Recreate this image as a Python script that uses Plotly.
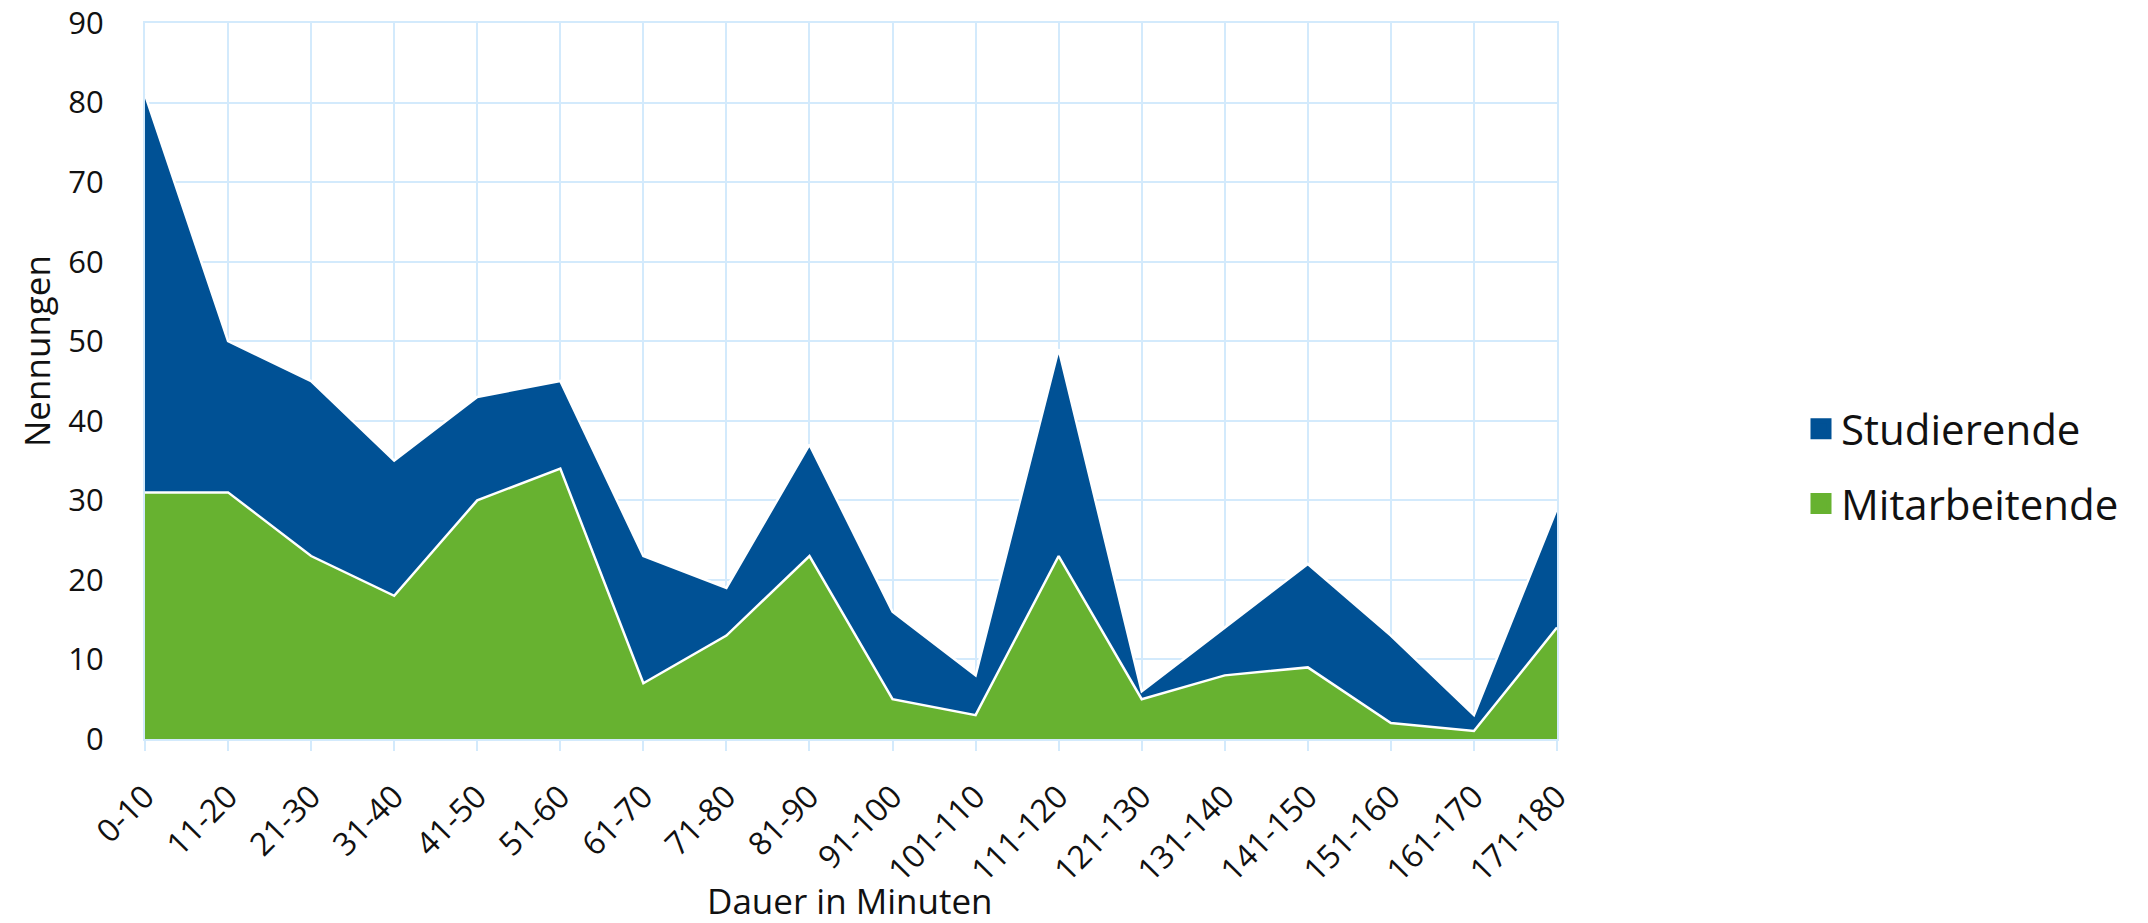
import plotly.graph_objects as go

categories = ["0-10", "11-20", "21-30", "31-40", "41-50", "51-60", "61-70", "71-80",
              "81-90", "91-100", "101-110", "111-120", "121-130", "131-140", "141-150",
              "151-160", "161-170", "171-180"]
mitarbeitende = [31, 31, 23, 18, 30, 34, 7, 13, 23, 5, 3, 23, 5, 8, 9, 2, 1, 14]
studierende = [50, 19, 22, 17, 13, 11, 16, 6, 14, 11, 5, 26, 1, 6, 13, 11, 2, 15]
y_ticks = [0, 10, 20, 30, 40, 50, 60, 70, 80, 90]

BLUE = "#005195"
GREEN = "#67b230"
GRID = "#d3eafc"
TEXT = "#111111"
FONT = "Open Sans"

# page is 2148x923; the body margin is removed by a post script
W, H = 2148, 923
PL, PR, PT, PB = 145, 1557, 23, 739          # plot area in page pixels
pw, ph = PR - PL, PB - PT


def px_x(x):
    return (x - PL) / pw


def px_y(y):
    return (PB - y) / ph


fig = go.Figure()
fig.add_trace(go.Scatter(
    x=categories, y=mitarbeitende, name="Mitarbeitende", stackgroup="one",
    mode="lines", line=dict(color="white", width=2.5), fillcolor=GREEN,
    showlegend=False, hoverinfo="skip"))
fig.add_trace(go.Scatter(
    x=categories, y=studierende, name="Studierende", stackgroup="one",
    mode="lines", line=dict(color="white", width=2.5), fillcolor=BLUE,
    showlegend=False, hoverinfo="skip"))

# legend entries (Studierende listed first)
fig.add_trace(go.Scatter(
    x=[None], y=[None], name="Studierende", mode="markers", legendgroup="s",
    marker=dict(symbol="square", size=16, color=BLUE, line=dict(color=BLUE, width=5))))
fig.add_trace(go.Scatter(
    x=[None], y=[None], name="Mitarbeitende", mode="markers", legendgroup="m",
    marker=dict(symbol="square", size=16, color=GREEN, line=dict(color=GREEN, width=5))))

fig.update_layout(
    width=W, height=H,
    margin=dict(l=PL, r=W - PR, t=PT, b=H - PB, autoexpand=False),
    paper_bgcolor="white", plot_bgcolor="white",
    font=dict(family=FONT, size=32, color=TEXT),
    showlegend=True,
    legend=dict(
        x=px_x(1801), y=px_y(395), xanchor="left", yanchor="top",
        font=dict(family=FONT, size=42, color=TEXT),
        tracegroupgap=17, traceorder="grouped", bgcolor="rgba(0,0,0,0)",
        itemsizing="trace"),
    xaxis=dict(
        type="category", range=[0, len(categories) - 1],
        showgrid=True, gridcolor=GRID, gridwidth=2,
        showline=True, linecolor=GRID, linewidth=2, mirror=True,
        ticks="outside", ticklen=10, tickwidth=2, tickcolor=GRID,
        tickangle=-45, tickfont=dict(size=32), ticklabelstandoff=14,
        zeroline=False, fixedrange=True),
    yaxis=dict(
        range=[0, 90], tickvals=y_ticks,
        showgrid=True, gridcolor=GRID, gridwidth=2,
        showline=True, linecolor=GRID, linewidth=2, mirror=True,
        ticks="", tickfont=dict(size=31), ticklabelstandoff=33,
        ticklabeloverflow="allow",
        zeroline=False, fixedrange=True),
    annotations=[
        dict(text="Nennungen", xref="paper", yref="paper", x=px_x(36), y=px_y(351),
             xanchor="center", yanchor="middle", textangle=-90, showarrow=False,
             font=dict(family=FONT, size=35, color=TEXT)),
        dict(text="Dauer in Minuten", xref="paper", yref="paper", x=px_x(850), y=px_y(900),
             xanchor="center", yanchor="middle", showarrow=False,
             font=dict(family=FONT, size=35, color=TEXT)),
    ],
)

fig.write_html("out.html", config={"displayModeBar": False},
               post_script="document.body.style.margin='0';")
